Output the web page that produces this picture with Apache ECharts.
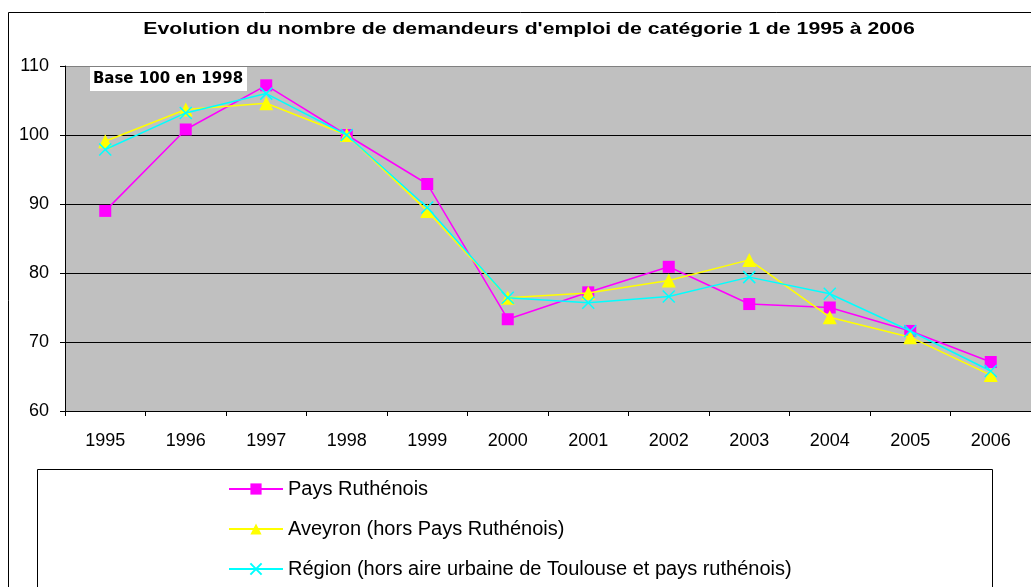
<!DOCTYPE html>
<html>
<head>
<meta charset="utf-8">
<script src="https://cdn.jsdelivr.net/npm/echarts@6/dist/echarts.min.js"></script>
<style>
html, body { margin: 0; padding: 0; background: #fff; }
#chart { width: 1031px; height: 587px; }
</style>
</head>
<body>
<div id="chart"></div>
<script>
var years = ['1995', '1996', '1997', '1998', '1999', '2000', '2001', '2002', '2003', '2004', '2005', '2006'];
var paysRuthenois = [89.0, 100.8, 107.2, 100.0, 92.9, 73.3, 77.2, 80.9, 75.5, 75.0, 71.6, 67.1];
var aveyron = [99.1, 103.7, 104.6, 100.0, 89.0, 76.4, 77.1, 78.9, 81.9, 73.6, 70.7, 65.2];
var region = [97.9, 103.2, 106.0, 100.0, 89.5, 76.4, 75.7, 76.6, 79.4, 77.0, 71.6, 65.8];

var font = 'Liberation Sans, Arial, sans-serif';
var crossPath = 'path://M0,0 L10,10 M10,0 L0,10';

var myChart = echarts.init(document.getElementById('chart'));
var option = {
    animation: false,
    backgroundColor: '#fff',
    graphic: [
        /*cadre extérieur*/
        { type: 'rect', shape: { x: 8.5, y: 12.5, width: 1100, height: 700 },
          style: { fill: 'none', stroke: '#000', lineWidth: 1 }, z: -1 },
        /*cadre de la légende*/
        { type: 'rect', shape: { x: 37.5, y: 469.5, width: 955, height: 200 },
          style: { fill: '#fff', stroke: '#000', lineWidth: 1 }, z: 0 },
        { type: 'text', x: 529, y: 29, scaleX: 1.25,
          style: { text: "Evolution du nombre de demandeurs d'emploi de catégorie 1 de 1995 à 2006",
                   font: 'bold 17px ' + font, fill: '#000', textAlign: 'center', textVerticalAlign: 'middle' } },
        { type: 'rect', shape: { x: 90, y: 67, width: 157, height: 24 },
          style: { fill: '#fff' }, z: 10 },
        { type: 'text', x: 168, y: 79, z: 11,
          style: { text: 'Base 100 en 1998', font: 'bold 15px DejaVu Sans', fill: '#000',
                   textAlign: 'center', textVerticalAlign: 'middle' } }
    ],
    grid: {
        left: 65, top: 66, right: 0, bottom: 176,
        show: true, backgroundColor: '#C0C0C0', borderWidth: 0
    },
    legend: {
        orient: 'vertical',
        left: 223, top: 474,
        itemWidth: 54, itemHeight: 14, itemGap: 20,
        textStyle: { fontFamily: font, fontSize: 20, color: '#000' },
        data: ['Pays Ruthénois', 'Aveyron (hors Pays Ruthénois)', 'Région (hors aire urbaine de Toulouse et pays ruthénois)']
    },
    xAxis: {
        type: 'category',
        data: years,
        boundaryGap: true,
        axisLine: { lineStyle: { color: '#000', width: 1 } },
        axisTick: { show: true, length: 5, lineStyle: { color: '#000' } },
        axisLabel: { fontFamily: font, fontSize: 18, color: '#000', margin: 21 }
    },
    yAxis: {
        type: 'value',
        min: 60, max: 110, interval: 10,
        axisLine: { show: true, lineStyle: { color: '#000', width: 1 } },
        axisTick: { show: true, length: 5, lineStyle: { color: '#000' } },
        axisLabel: { fontFamily: font, fontSize: 18, color: '#000', margin: 16 },
        splitLine: { show: true, lineStyle: { color: ['#000', '#000', '#000', '#000', '#000', '#808080'], width: 1 } }
    },
    series: [
        {
            name: 'Pays Ruthénois',
            type: 'line',
            data: paysRuthenois,
            symbol: 'rect', symbolSize: 12,
            itemStyle: { color: '#FF00FF' },
            lineStyle: { color: '#FF00FF', width: 1.5 },
            z: 3
        },
        {
            name: 'Aveyron (hors Pays Ruthénois)',
            type: 'line',
            data: aveyron,
            symbol: 'triangle', symbolSize: 14,
            itemStyle: { color: '#FFFF00' },
            lineStyle: { color: '#FFFF00', width: 1.5 },
            z: 4
        },
        {
            name: 'Région (hors aire urbaine de Toulouse et pays ruthénois)',
            type: 'line',
            data: region,
            symbol: crossPath, symbolSize: 12,
            itemStyle: { color: '#00FFFF', borderColor: '#00FFFF', borderWidth: 1.5 },
            lineStyle: { color: '#00FFFF', width: 1.5 },
            z: 5
        }
    ]
};
myChart.setOption(option);
</script>
</body>
</html>
